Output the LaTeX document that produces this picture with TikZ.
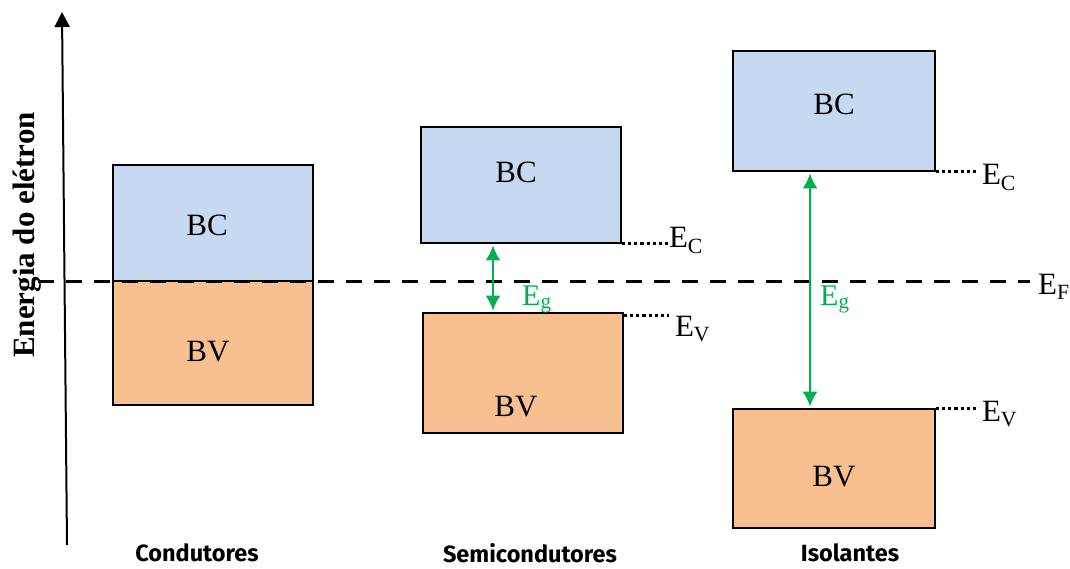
\documentclass[tikz,border=0pt]{standalone}
\usepackage{fontspec}
\setmainfont{Liberation Serif}
\newfontfamily\tagfont{Fira Sans}
\usetikzlibrary{arrows.meta,positioning}
\definecolor{BandBlue}{RGB}{198,217,240}
\definecolor{BandOrange}{RGB}{248,192,144}
\definecolor{GapGreen}{RGB}{0,176,80}
\tikzset{
  bandbc/.style={draw=black,line width=1.6pt,fill=BandBlue,
    minimum width=200pt,inner sep=0pt},
  bandbv/.style={draw=black,line width=1.6pt,fill=BandOrange,
    minimum width=200pt,inner sep=0pt},
  bandtext/.style={inner sep=0pt,font=\fontsize{31}{36}\selectfont},
  levelline/.style={line width=3.2pt,dash pattern=on 3.2pt off 3pt},
  leveltext/.style={anchor=base west,inner sep=0pt,
    font=\fontsize{31}{36}\selectfont},
  fermiline/.style={line width=3pt,dash pattern=on 16pt off 12pt},
  gaparrow/.style={{Latex[length=15pt,width=15pt]}-{Latex[length=15pt,width=15pt]},
    line width=2.4pt,draw=GapGreen,shorten <=1.5pt,shorten >=1.5pt},
  gaptext/.style={anchor=base west,inner sep=0pt,text=GapGreen,
    font=\fontsize{30}{36}\selectfont},
  classtext/.style={inner sep=0pt,font=\tagfont\bfseries\fontsize{23.5}{28}\selectfont},
}

\begin{document}
\begin{tikzpicture}[x=1pt,y=-1pt,>=Latex]
  \useasboundingbox (0,0) rectangle (1070,568);
  % energy axis
  \coordinate (axisbot) at (67,545);
  \coordinate (axistop) at (62,12);
  \draw[line width=2pt,-{Triangle[length=15pt,width=15pt]}] (axisbot) -- (axistop);
  \node[rotate=90,inner sep=0pt,font=\bfseries\fontsize{31}{36}\selectfont] (ylabel) at (27,235) {Energia do elétron};

  % bands
  \node[bandbc,minimum height=116pt] (condBC) at (213,223) {};
  \node[bandbv,minimum height=124pt] (condBV) at (213,343) {};
  \node[bandbc,minimum height=116pt] (semiBC) at (521,185) {};
  \node[bandbv,minimum height=120pt] (semiBV) at (523,373) {};
  \node[bandbc,minimum width=202pt,minimum height=120pt] (isoBC) at (834,111) {};
  \node[bandbv,minimum width=202pt,minimum height=119pt] (isoBV) at (834,468.5) {};

  \node[bandtext] (condBCtext) at (207,225) {BC};
  \node[bandtext] (condBVtext) at (208,352) {BV};
  \node[bandtext] (semiBCtext) at (516,172) {BC};
  \node[bandtext] (semiBVtext) at (516,407) {BV};
  \node[bandtext] (isoBCtext) at (834,104) {BC};
  \node[bandtext] (isoBVtext) at (834,477) {BV};

  % Fermi level
  \coordinate (fermiL) at (38,281);
  \coordinate (fermiR) at (1030,281);
  \draw[fermiline] (fermiL) -- (fermiR);
  \node[leveltext] (EF) at (1038,294) {E\textsubscript{F}};

  % band edges
  \draw[levelline] (semiBC.south east) -- ++(47,0) coordinate (semiECend);
  \node[leveltext] (semiEC) at ([yshift=-4pt]semiECend) {E\textsubscript{C}};
  \draw[levelline] ([yshift=-3pt]semiBV.north east) -- ++(45,0) coordinate (semiEVend);
  \node[leveltext] (semiEV) at ([xshift=6pt,yshift=-21pt]semiEVend) {E\textsubscript{V}};
  \draw[levelline] (isoBC.south east) -- ++(42,0) coordinate (isoECend);
  \node[leveltext] (isoEC) at ([xshift=4pt,yshift=-13pt]isoECend) {E\textsubscript{C}};
  \draw[levelline] (isoBV.north east) -- ++(42,0) coordinate (isoEVend);
  \node[leveltext] (isoEV) at ([xshift=4pt,yshift=-13pt]isoEVend) {E\textsubscript{V}};

  % gaps
  \draw[gaparrow] ([xshift=-28pt]semiBC.south) -- ([xshift=-30pt]semiBV.north);
  \node[gaptext] (semiEg) at (522,305) {E\textsubscript{g}};
  \draw[gaparrow] ([xshift=-24pt]isoBC.south) -- ([xshift=-24pt]isoBV.north);
  \node[gaptext] (isoEg) at (820,305) {E\textsubscript{g}};

  % material classes
  \node[classtext] (condlabel) at (197,553) {Condutores};
  \node[classtext] (semilabel) at (530,553) {Semicondutores};
  \node[classtext] (isolabel) at (850,553) {Isolantes};
\end{tikzpicture}
\end{document}
